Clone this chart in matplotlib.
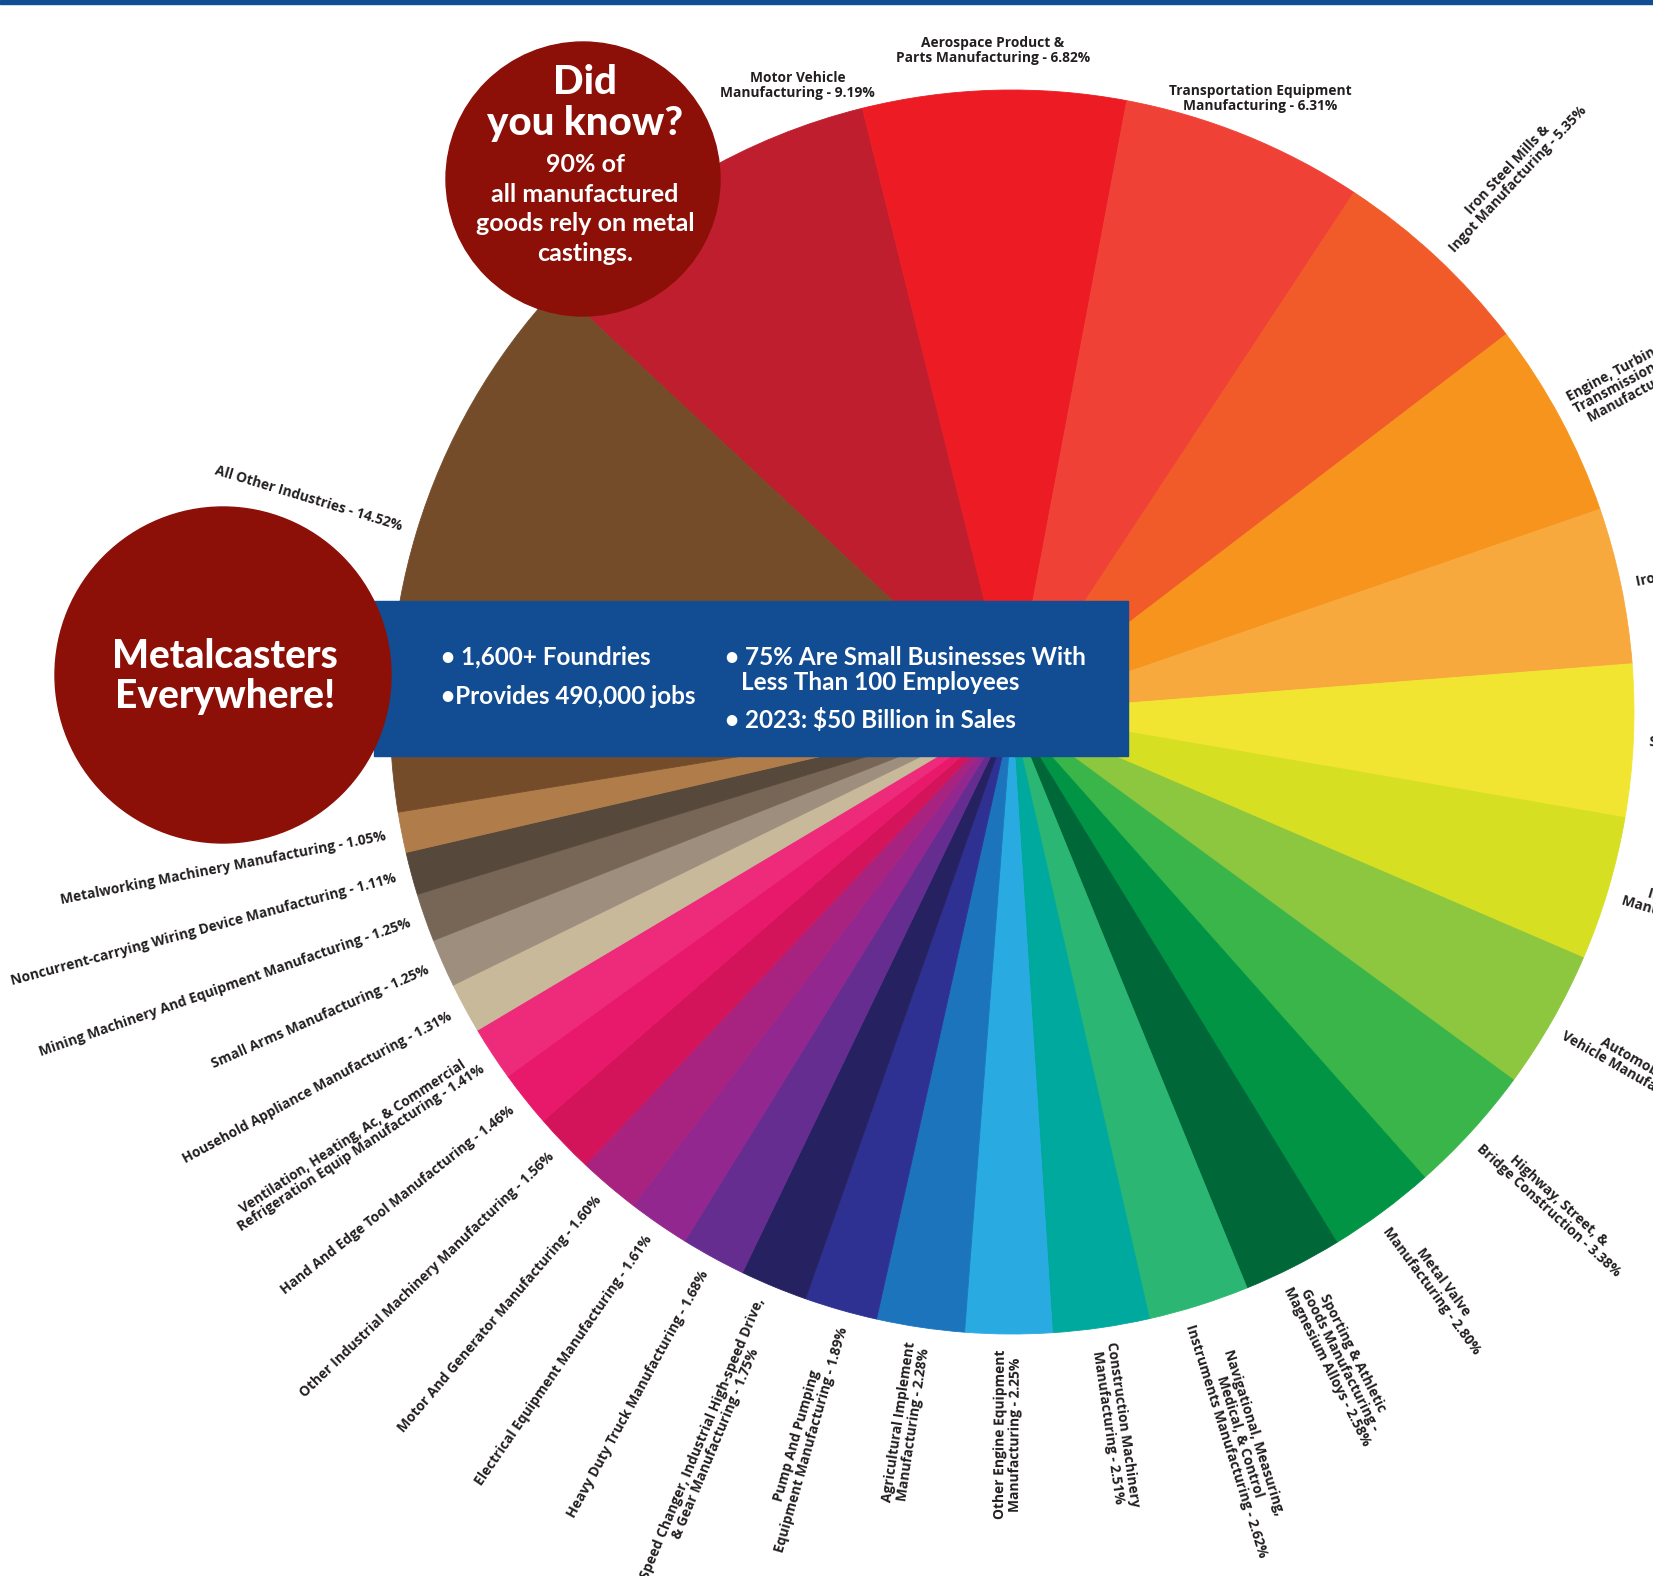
import matplotlib
matplotlib.use("Agg")
import matplotlib.pyplot as plt
from matplotlib.patches import Circle, Rectangle
import numpy as np

# ---------------- data ----------------
names = [
    "Motor Vehicle\nManufacturing",
    "Aerospace Product &\nParts Manufacturing",
    "Transportation Equipment\nManufacturing",
    "Iron Steel Mills &\nIngot Manufacturing",
    "Engine, Turbine, & Power\nTransmission Equipment\nManufacturing",
    "Iron Foundries",
    "Stock Machinery Manufacturing",
    "Industrial Valve\nManufacturing",
    "Automobile & Light\nVehicle Manufacturing",
    "Highway, Street, &\nBridge Construction",
    "Metal Valve\nManufacturing",
    "Sporting & Athletic\nGoods Manufacturing -\nMagnesium Alloys",
    "Navigational, Measuring,\nMedical, & Control\nInstruments Manufacturing",
    "Construction Machinery\nManufacturing",
    "Other Engine Equipment\nManufacturing",
    "Agricultural Implement\nManufacturing",
    "Pump And Pumping\nEquipment Manufacturing",
    "Speed Changer, Industrial High-speed Drive,\n& Gear Manufacturing",
    "Heavy Duty Truck Manufacturing",
    "Electrical Equipment Manufacturing",
    "Motor And Generator Manufacturing",
    "Other Industrial Machinery Manufacturing",
    "Hand And Edge Tool Manufacturing",
    "Ventilation, Heating, Ac, & Commercial\nRefrigeration Equip Manufacturing",
    "Household Appliance Manufacturing",
    "Small Arms Manufacturing",
    "Mining Machinery And Equipment Manufacturing",
    "Noncurrent-carrying Wiring Device Manufacturing",
    "Metalworking Machinery Manufacturing",
    "All Other Industries",
]
values = [9.19, 6.82, 6.31, 5.35, 5.10, 4.05, 3.95, 3.75, 3.61, 3.38,
          2.80, 2.58, 2.62, 2.51, 2.25, 2.28, 1.89, 1.75, 1.68, 1.61,
          1.60, 1.56, 1.46, 1.41, 1.31, 1.25, 1.25, 1.11, 1.05, 14.52]
colors = ["#BE1E2D", "#ED1C24", "#EF4136", "#F15A29", "#F7941D", "#F8A93E",
          "#F2E531", "#D7DF23", "#8DC63F", "#39B54A", "#009444", "#006838",
          "#2BB673", "#00A99D", "#29ABE2", "#1C75BC", "#2E3192", "#262262",
          "#662D91", "#92278F", "#A8237F", "#D4145A", "#E8196A", "#EE2A7B",
          "#C9B99B", "#9E8E7E", "#776656", "#56483B", "#B07D4A", "#754C29"]

facts_left = ["\u2022 1,600+ Foundries", "\u2022Provides 490,000 jobs"]
facts_right = ["\u2022 75% Are Small Businesses With", "Less Than 100 Employees",
               "\u2022 2023: $50 Billion in Sales"]
did_title = ["Did", "you know?"]
did_body = ["90% of", "all manufactured", "goods rely on metal", "castings."]
badge_text = ["Metalcasters", "Everywhere!"]

# ---------------- figure ----------------
W, H = 1653, 1576
plt.rcParams['font.family'] = ['Lato', 'DejaVu Sans']
fig = plt.figure(figsize=(W / 100, H / 100), dpi=100)
ax = fig.add_axes([0, 0, 1, 1])


def Y(y):
    return H - y


LABEL_FONT = ['Open Sans', 'DejaVu Sans']
FS_LAB = 9.9
cx, cy, R = 1012, Y(712), 622
wedges, _ = ax.pie(values, colors=colors, startangle=137, counterclock=False,
                   radius=R, center=(cx, cy), wedgeprops=dict(linewidth=0))
for w in wedges:
    w.set_edgecolor(w.get_facecolor())
    w.set_linewidth(0.6)

ax.set_xlim(0, W)
ax.set_ylim(0, H)
ax.set_aspect('equal')
ax.axis('off')

# labels
for i, (w, n, v) in enumerate(zip(wedges, names, values)):
    mid = (w.theta1 + w.theta2) / 2.0
    mid = (mid + 180) % 360 - 180
    lab = f"{n} - {v:.2f}%"
    if 55 < mid < 130:
        # labels near the top edge are set horizontally above their wedge
        a = mid if i else w.theta1 + 0.15 * (w.theta2 - w.theta1)
        a = np.deg2rad(a)
        ax.text(cx + (R + 40) * np.cos(a), cy + (R + 40) * np.sin(a), lab,
                ha='center', va='center', fontsize=FS_LAB, fontweight='bold',
                family=LABEL_FONT, color='#231F20', multialignment='center',
                linespacing=1.1)
        continue
    rad = np.deg2rad(mid)
    rl = R + 16
    x, y = cx + rl * np.cos(rad), cy + rl * np.sin(rad)
    if -90 < mid < 90:
        rot, ha = mid, 'left'
    else:
        rot, ha = (mid - 180 if mid > 0 else mid + 180), 'right'
    ax.text(x, y, lab, rotation=rot, rotation_mode='anchor', ha=ha, va='center',
            fontsize=FS_LAB, fontweight='bold', family=LABEL_FONT, color='#231F20',
            multialignment='center', linespacing=1.05)

# top rule
ax.add_patch(Rectangle((0, Y(4)), W, 4, color='#124C93', zorder=5))

# blue box
ax.add_patch(Rectangle((374, Y(756)), 1128 - 374, 756 - 601, color='#124C93', zorder=5))
fs_box = 17.5
ax.text(441, Y(657), facts_left[0], color='white', fontsize=fs_box, fontweight='bold',
        ha='left', va='center', zorder=6)
ax.text(441, Y(696), facts_left[1], color='white', fontsize=fs_box, fontweight='bold',
        ha='left', va='center', zorder=6)
ax.text(725, Y(657), facts_right[0], color='white', fontsize=fs_box, fontweight='bold',
        ha='left', va='center', zorder=6)
ax.text(741, Y(682), facts_right[1], color='white', fontsize=fs_box, fontweight='bold',
        ha='left', va='center', zorder=6)
ax.text(725, Y(720), facts_right[2], color='white', fontsize=fs_box, fontweight='bold',
        ha='left', va='center', zorder=6)

# circles
red = '#8C1007'
ax.add_patch(Circle((583, Y(179)), 137, color=red, zorder=7))
ax.text(585, Y(82), did_title[0], color='white', fontsize=29, fontweight='black',
        ha='center', va='center', zorder=8)
ax.text(585, Y(123), did_title[1], color='white', fontsize=29, fontweight='black',
        ha='center', va='center', zorder=8)
for t, yy in zip(did_body, [164, 194, 223, 253]):
    ax.text(585, Y(yy), t, color='white', fontsize=18, fontweight='bold',
            ha='center', va='center', zorder=8)

ax.add_patch(Circle((223, Y(675)), 168, color=red, zorder=7))
ax.text(225, Y(656), badge_text[0], color='white', fontsize=28, fontweight='black',
        ha='center', va='center', zorder=8)
ax.text(225, Y(696), badge_text[1], color='white', fontsize=28, fontweight='black',
        ha='center', va='center', zorder=8)

fig.savefig("out.png", dpi=100, facecolor='white')
